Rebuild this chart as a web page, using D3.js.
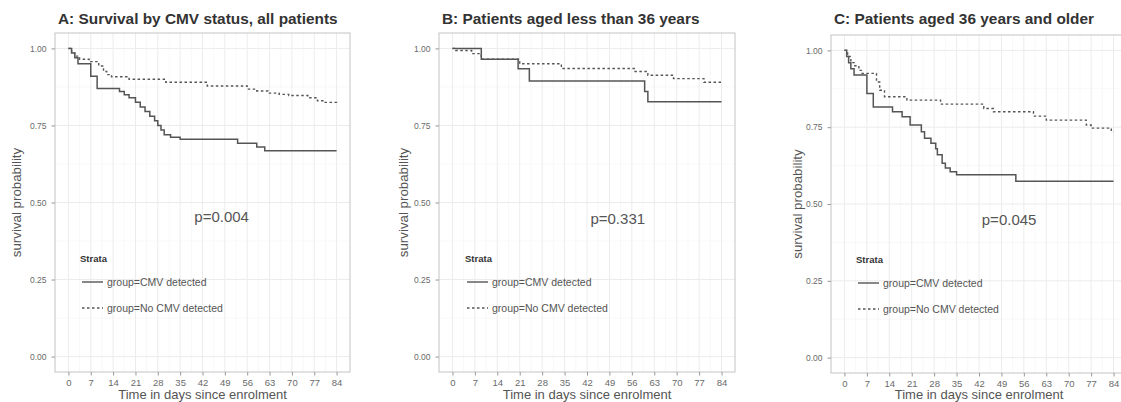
<!DOCTYPE html>
<html><head><meta charset="utf-8">
<script src="https://cdn.jsdelivr.net/npm/d3@7"></script>
<style>
body{margin:0;background:#fff;}
svg{display:block;font-family:"Liberation Sans",Arial,sans-serif;}
</style></head>
<body><svg id="chart" width="1121" height="402"></svg>
<script>
// ---------- data ----------
const titles = ["A: Survival by CMV status, all patients","B: Patients aged less than 36 years","C: Patients aged 36 years and older"];
const pValues = ["p=0.004","p=0.331","p=0.045"];
const strataLabels = ["group=CMV detected","group=No CMV detected"];
const xTicks = [0,7,14,21,28,35,42,49,56,63,70,77,84];
const yTicks = [0,0.25,0.5,0.75,1];
const yTickLabels = ["0.00","0.25","0.50","0.75","1.00"];

// Panel A
const aCmvTime = [0,1,2,3,7,9,16,17.5,19,21,22.5,24,25.5,27,28,29,30,32,35,53,59,61.5,84];
const aCmvSurv = [1,0.985,0.97,0.95,0.91,0.87,0.86,0.85,0.84,0.825,0.81,0.795,0.78,0.765,0.75,0.735,0.72,0.712,0.705,0.692,0.68,0.668,0.668];
const aNoTime = [0,1,2,3.5,6.5,9.5,11,12,13.5,19,30.5,43.5,56,59,62.5,66,69,75,78,80,84];
const aNoSurv = [1,0.985,0.975,0.965,0.957,0.943,0.925,0.915,0.908,0.9,0.89,0.878,0.868,0.862,0.855,0.851,0.847,0.84,0.83,0.825,0.822];
// Panel B
const bCmvTime = [0,9,20.5,24,60,61,84];
const bCmvSurv = [1,0.965,0.934,0.894,0.86,0.827,0.827];
const bNoTime = [0,1,6,9,21,34,57,61,69,78.5,84];
const bNoSurv = [1,0.993,0.983,0.965,0.95,0.935,0.925,0.913,0.902,0.89,0.89];
// Panel C
const cCmvTime = [0,0.7,1.3,2,3,7,9,15,18,20.5,24,25,27,28.5,29,30.5,31.5,33,35,53.5,84];
const cCmvSurv = [1,0.98,0.96,0.94,0.92,0.86,0.816,0.8,0.784,0.757,0.735,0.714,0.698,0.68,0.66,0.633,0.617,0.605,0.595,0.574,0.574];
const cNoTime = [0,1,2,3,4.5,5.5,10,11,12.5,19.5,30,43.5,46.5,59,63,75.5,77,83.3,84];
const cNoSurv = [1,0.98,0.96,0.95,0.935,0.925,0.897,0.87,0.849,0.838,0.825,0.811,0.8,0.786,0.773,0.757,0.747,0.736,0.736];

// ---------- layout ----------
const panels = [
  {left:55, right:350, top:33, bottom:372, cmv:[aCmvTime,aCmvSurv], no:[aNoTime,aNoSurv], pDay:48, pY:222, legX:82, legY:262, ylx:16},
  {left:439, right:735, top:33, bottom:372, cmv:[bCmvTime,bCmvSurv], no:[bNoTime,bNoSurv], pDay:51.6, pY:224, legX:467, legY:262, ylx:403},
  {left:831, right:1127, top:35, bottom:373, cmv:[cCmvTime,cCmvSurv], no:[cNoTime,cNoSurv], pDay:51.4, pY:225, legX:858, legY:263, ylx:797}
];

const svg = d3.select("#chart");
const lineCol = "#555";

panels.forEach((p,i)=>{
  const g = svg.append("g");
  const x = d3.scaleLinear().domain([-4.2,88.2]).range([p.left,p.right]);
  const y = d3.scaleLinear().domain([-0.05,1.05]).range([p.bottom,p.top]);

  // minor grid
  const xMinor = d3.range(3.5,84,7);
  const yMinor = [0.125,0.375,0.625,0.875];
  g.append("g").selectAll("line.xm").data(xMinor).join("line")
    .attr("x1",d=>x(d)).attr("x2",d=>x(d)).attr("y1",p.top).attr("y2",p.bottom)
    .attr("stroke","#f4f4f4").attr("stroke-width",0.6);
  g.append("g").selectAll("line.ym").data(yMinor).join("line")
    .attr("y1",d=>y(d)).attr("y2",d=>y(d)).attr("x1",p.left).attr("x2",p.right)
    .attr("stroke","#f4f4f4").attr("stroke-width",0.6);
  // major grid
  g.append("g").selectAll("line").data(xTicks).join("line")
    .attr("x1",d=>x(d)).attr("x2",d=>x(d)).attr("y1",p.top).attr("y2",p.bottom)
    .attr("stroke","#ececec").attr("stroke-width",1);
  g.append("g").selectAll("line").data(yTicks).join("line")
    .attr("y1",d=>y(d)).attr("y2",d=>y(d)).attr("x1",p.left).attr("x2",p.right)
    .attr("stroke","#ececec").attr("stroke-width",1);

  // border
  g.append("rect").attr("x",p.left).attr("y",p.top).attr("width",p.right-p.left).attr("height",p.bottom-p.top)
    .attr("fill","none").attr("stroke","#c4c4c4").attr("stroke-width",1);

  // axes
  const xAxis = d3.axisBottom(x).tickValues(xTicks).tickSize(3.5).tickPadding(4);
  const gx = g.append("g").attr("transform",`translate(0,${p.bottom})`).call(xAxis);
  gx.select(".domain").remove();
  gx.selectAll("line").attr("stroke","#999");
  gx.selectAll("text").attr("fill","#6a6a6a").style("font-size","9.5px");

  const yAxis = d3.axisLeft(y).tickValues(yTicks).tickFormat((d,k)=>yTickLabels[k]).tickSize(3.5).tickPadding(5);
  const gy = g.append("g").attr("transform",`translate(${p.left},0)`).call(yAxis);
  gy.select(".domain").remove();
  gy.selectAll("line").attr("stroke","#999");
  gy.selectAll("text").attr("fill","#6a6a6a").style("font-size","8.5px");

  // curves
  const line = d3.line().x(d=>x(d[0])).y(d=>y(d[1])).curve(d3.curveStepAfter);
  const cmvPts = p.cmv[0].map((t,k)=>[t,p.cmv[1][k]]);
  const noPts = p.no[0].map((t,k)=>[t,p.no[1][k]]);
  g.append("path").attr("d",line(noPts)).attr("fill","none").attr("stroke",lineCol)
    .attr("stroke-width",1.4).attr("stroke-dasharray","2.5,2.5");
  g.append("path").attr("d",line(cmvPts)).attr("fill","none").attr("stroke",lineCol)
    .attr("stroke-width",1.5);

  // titles
  g.append("text").attr("x",p.left+3).attr("y",24).text(titles[i])
    .attr("fill","#333").style("font-size","15.4px").style("font-weight","bold");
  g.append("text").attr("x",(p.left+p.right)/2).attr("y",399).attr("text-anchor","middle")
    .text("Time in days since enrolment").attr("fill","#555").style("font-size","13px");
  g.append("text").attr("transform",`translate(${p.ylx},${(p.top+p.bottom)/2}) rotate(-90)`)
    .attr("text-anchor","middle").attr("dy","0.35em").text("survival probability").attr("fill","#555").style("font-size","13.3px");

  // p-value
  g.append("text").attr("x",x(p.pDay)).attr("y",p.pY).attr("text-anchor","middle")
    .text(pValues[i]).attr("fill","#555").style("font-size","15px");

  // legend
  const lg = g.append("g");
  lg.append("text").attr("x",p.legX-2).attr("y",p.legY).text("Strata")
    .attr("fill","#333").style("font-size","9.5px").style("font-weight","bold");
  [0,1].forEach(k=>{
    const ly = p.legY+20+k*26;
    lg.append("line").attr("x1",p.legX).attr("x2",p.legX+21).attr("y1",ly).attr("y2",ly)
      .attr("stroke",lineCol).attr("stroke-width",1.4).attr("stroke-dasharray",k?"2.5,2.5":null);
    lg.append("text").attr("x",p.legX+25).attr("y",ly+3.5).text(strataLabels[k])
      .attr("fill","#555").style("font-size","10.5px");
  });
});
</script></body></html>
